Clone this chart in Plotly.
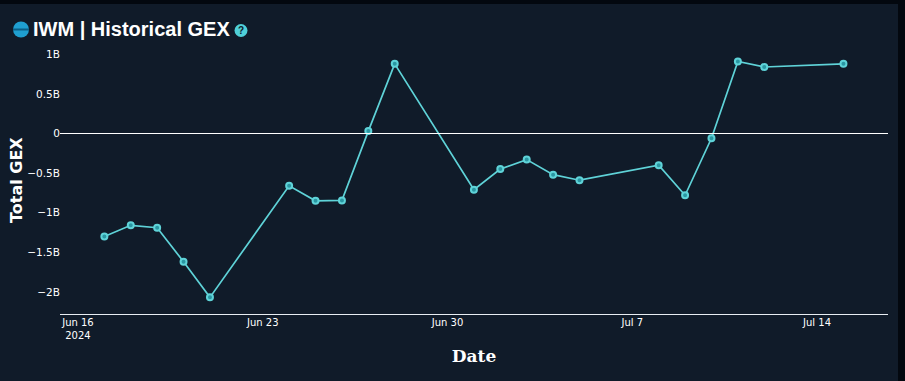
import plotly.graph_objects as go

dates = ["2024-06-17","2024-06-18","2024-06-19","2024-06-20","2024-06-21",
         "2024-06-24","2024-06-25","2024-06-26","2024-06-27","2024-06-28",
         "2024-07-01","2024-07-02","2024-07-03","2024-07-04","2024-07-05",
         "2024-07-08","2024-07-09","2024-07-10","2024-07-11","2024-07-12",
         "2024-07-15"]
gex = [-1.30e9,-1.16e9,-1.19e9,-1.62e9,-2.07e9,
       -0.66e9,-0.85e9,-0.845e9,0.03e9,0.88e9,
       -0.71e9,-0.45e9,-0.33e9,-0.52e9,-0.59e9,
       -0.40e9,-0.78e9,-0.06e9,0.91e9,0.84e9,
       0.88e9]
title_text = "IWM | Historical GEX"
y_title = "Total GEX"
y_ticks = [-2e9,-1.5e9,-1e9,-0.5e9,0,0.5e9,1e9]
y_labels = ["\u22122B","\u22121.5B","\u22121B","\u22120.5B","0","0.5B","1B"]
x_ticks = ["2024-06-16","2024-06-23","2024-06-30","2024-07-07","2024-07-14"]
x_labels = ["Jun 16<br>2024","Jun 23","Jun 30","Jul 7","Jul 14"]

W, H = 905, 381
L, R, T, B = 60, 17, 47, 67
PW, PH = W-L-R, H-T-B
BG = "#101b29"; DARK = "#03080f"; TEAL = "#5fd3d8"
px = lambda v: (v-L)/PW
py = lambda v: (H-B-v)/PH

fig = go.Figure(go.Scatter(
    x=dates, y=gex, mode="lines+markers",
    line=dict(color=TEAL, width=1.7),
    marker=dict(size=6, color="#2a97a2", line=dict(color=TEAL, width=2)),
    hoverinfo="x+y", showlegend=False))

def rect(x0,y0,x1,y1,c):
    return dict(type="rect",xref="paper",yref="paper",x0=px(x0),x1=px(x1),y0=py(y0),y1=py(y1),
                fillcolor=c,line_width=0,layer="below")
def circ(cx,cy,r,c):
    return dict(type="circle",xref="paper",yref="paper",x0=px(cx-r),x1=px(cx+r),y0=py(cy+r),y1=py(cy-r),
                fillcolor=c,line_width=0,layer="above")

shapes = [
    rect(0,0,W,4,DARK), rect(898,0,W,H,DARK),
    circ(21,29.5,8,"#1f9fd0"),
    rect(13,28.5,29,30.5,"#0b5f86") | {"layer":"above"},
    circ(241,30.5,6.5,"#4fd0d8"),
    dict(type="line",xref="paper",yref="y",x0=0,x1=1,y0=0,y1=0,line=dict(color="#ffffff",width=1),layer="above"),
]

fig.update_layout(
    width=W, height=H, margin=dict(l=L,r=R,t=T,b=B,autoexpand=False),
    paper_bgcolor=BG, plot_bgcolor=BG,
    font=dict(family="DejaVu Sans", color="#ffffff", size=11),
    shapes=shapes,
    xaxis=dict(type="date", range=["2024-06-15 07:40","2024-07-16 16:30"],
               tickvals=x_ticks, ticktext=x_labels, showgrid=False, zeroline=False,
               showline=True, linecolor="#e8edf2", linewidth=1, ticks="", tickfont=dict(size=10),
               ticklabelstandoff=-1,
               title=dict(text="<b>Date</b>", font=dict(family="DejaVu Serif", size=17), standoff=10)),
    yaxis=dict(range=[-2.28e9,1.0926e9], tickvals=y_ticks, ticktext=y_labels,
               showgrid=False, zeroline=False, showline=False, ticks="", tickfont=dict(size=10.5),
               ticklabelstandoff=-1),
    annotations=[
        dict(text="<b>"+title_text+"</b>", xref="paper", yref="paper", x=px(31), y=py(29.5),
             xanchor="left", yanchor="middle", showarrow=False,
             font=dict(family="Liberation Sans", size=20, color="#ffffff")),
        dict(text="<b>?</b>", xref="paper", yref="paper", x=px(241), y=py(30.5),
             xanchor="center", yanchor="middle", showarrow=False,
             font=dict(family="Liberation Sans", size=10, color="#101b29")),
        dict(text="<b>"+y_title+"</b>", xref="paper", yref="paper", x=px(16), y=py(180),
             xanchor="center", yanchor="middle", textangle=-90, showarrow=False,
             font=dict(family="DejaVu Sans", size=16, color="#ffffff")),
    ],
)

fig.write_html("out.html", config={"displayModeBar":False},
               post_script="document.body.style.margin='0';document.body.style.overflow='hidden';")
